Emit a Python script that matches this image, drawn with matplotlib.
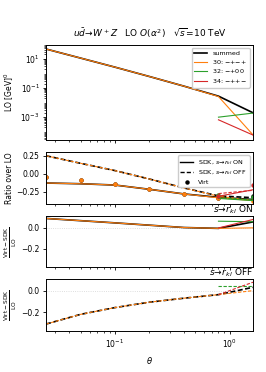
import numpy as np
import matplotlib
matplotlib.use("Agg")
import matplotlib.pyplot as plt
from matplotlib.lines import Line2D

# ---- data ----
theta = [0.025, 0.05, 0.1, 0.2, 0.4, 0.8, 1.6]
nan = np.nan

lo_sum = [45.7, 11.0, 2.63, 0.60, 0.132, 0.0274, 0.0020]
lo_30 = [45.7, 11.0, 2.63, 0.60, 0.132, 0.0257, 0.000062]
lo_32 = [nan, nan, nan, nan, nan, 0.0010, 0.0019]
lo_34 = [nan, nan, nan, nan, nan, 0.00066, 0.000060]

on_sum = [-0.127, -0.137, -0.155, -0.214, -0.278, -0.325, -0.355]
off_sum = [0.25, 0.146, 0.045, -0.072, -0.195, -0.305, -0.33]
virt_sum = [-0.05, -0.092, -0.141, -0.209, -0.283, -0.33, -0.30]
on_30 = [-0.127, -0.137, -0.155, -0.214, -0.278, -0.332, -0.37]
off_30 = [0.25, 0.146, 0.045, -0.072, -0.195, -0.31, -0.37]
virt_30 = [-0.05, -0.092, -0.141, -0.209, -0.283, -0.337, -0.37]
on_32 = [nan, nan, nan, nan, nan, -0.34, -0.37]
off_32 = [nan, nan, nan, nan, nan, -0.331, -0.36]
virt_32 = [nan, nan, nan, nan, nan, -0.287, -0.315]
on_34 = [nan, nan, nan, nan, nan, -0.31, -0.22]
off_34 = [nan, nan, nan, nan, nan, -0.273, -0.228]
virt_34 = [nan, nan, nan, nan, nan, -0.31, -0.155]

don_sum = [0.086, 0.065, 0.044, 0.022, 0.0, -0.008, 0.053]
don_30 = [0.086, 0.065, 0.044, 0.022, 0.0, -0.008, -0.003]
don_32 = [nan, nan, nan, nan, nan, 0.06, 0.055]
don_34 = [nan, nan, nan, nan, nan, -0.004, 0.076]
doff_sum = [-0.31, -0.22, -0.157, -0.107, -0.07, -0.037, 0.031]
doff_30 = [-0.31, -0.22, -0.157, -0.107, -0.07, -0.037, 0.0]
doff_32 = [nan, nan, nan, nan, nan, 0.044, 0.044]
doff_34 = [nan, nan, nan, nan, nan, -0.037, 0.078]

labels = ["summed", "30: $-$+$-$+", "32: $-$+00", "34: $-$++$-$"]
colors = ["black", "C1", "C2", "C3"]

lo_all = [lo_sum, lo_30, lo_32, lo_34]
on_all = [on_sum, on_30, on_32, on_34]
off_all = [off_sum, off_30, off_32, off_34]
virt_all = [virt_sum, virt_30, virt_32, virt_34]
don_all = [don_sum, don_30, don_32, don_34]
doff_all = [doff_sum, doff_30, doff_32, doff_34]

plt.rcParams['font.size'] = 5.5
plt.rcParams['mathtext.fontset'] = 'dejavusans'
fig = plt.figure(figsize=(2.66, 3.72), dpi=100)
L, W = 0.173, 0.778
ax1 = fig.add_axes([L, 0.624, W, 0.255])
ax2 = fig.add_axes([L, 0.452, W, 0.139], sharex=ax1)
ax3 = fig.add_axes([L, 0.282, W, 0.137], sharex=ax1)
ax4 = fig.add_axes([L, 0.110, W, 0.140], sharex=ax1, sharey=ax3)

for i in range(4):
    lw = 1.2 if i == 0 else 0.8
    ax1.plot(theta, lo_all[i], color=colors[i], lw=lw, label=labels[i])
    ax2.plot(theta, on_all[i], color=colors[i], lw=lw, ls='-')
    ax2.plot(theta, off_all[i], color=colors[i], lw=lw, ls='--', dashes=(3, 1.5))
    ax2.plot(theta, virt_all[i], color=colors[i], ls='none', marker='o', ms=2.2)
    ax3.plot(theta, don_all[i], color=colors[i], lw=lw, ls='-')
    ax4.plot(theta, doff_all[i], color=colors[i], lw=lw, ls='--', dashes=(3, 1.5))

ax1.set_xscale('log')
ax1.set_yscale('log')
ax1.set_xlim(0.025, 1.6)
ax1.set_ylim(2.8e-5, 86)
ax1.set_yticks([1e1, 1e-1, 1e-3])
ax1.set_ylabel("LO [GeV]$^0$", fontsize=5.5, labelpad=3)
ax1.legend(loc='upper right', fontsize=4.6, handlelength=2.0, labelspacing=0.25,
           borderpad=0.4, framealpha=1.0, edgecolor='0.8')
ax1.set_title(r"$u\bar{d}\!\to\! W^+Z$   LO $O(\alpha^2)$   $\sqrt{s}$=10 TeV", fontsize=6.5, pad=6)

ax2.set_ylim(-0.415, 0.30)
ax2.set_yticks([0.25, 0.0, -0.25])
ax2.set_ylabel("Ratio over LO", fontsize=5.5, labelpad=2)
h = [Line2D([], [], color='k', lw=1.0, ls='-'),
     Line2D([], [], color='k', lw=1.0, ls='--', dashes=(3, 1.5)),
     Line2D([], [], color='k', ls='none', marker='o', ms=2.2)]
ax2.legend(h, [r"SDK, $s\!\to\! r_{kl}$ ON", r"SDK, $s\!\to\! r_{kl}$ OFF", "Virt"],
           loc='upper right', fontsize=4.6, labelspacing=0.3, borderpad=0.4,
           framealpha=1.0, edgecolor='0.8')

for ax, t in [(ax3, "ON"), (ax4, "OFF")]:
    ax.axhline(0, color='lightgray', lw=0.6, ls=':', zorder=0)
    ax.set_ylabel(r"$\frac{\mathrm{Virt}-\mathrm{SDK}}{\mathrm{LO}}$", fontsize=6, labelpad=2)
    ax.set_title(r"$s\!\to\! r_{kl}$ " + t, loc='right', fontsize=6.5, pad=1.5)
ax3.set_ylim(-0.375, 0.108)
ax3.set_yticks([0.0, -0.2])

for ax in [ax1, ax2, ax3]:
    ax.tick_params(labelbottom=False)
ax4.set_xlabel(r"$\theta$", fontsize=6)

for ax in [ax1, ax2, ax3, ax4]:
    ax.tick_params(labelsize=5.5, length=2.5, width=0.6, pad=2)
    ax.tick_params(which='minor', length=1.5, width=0.5)
    for s in ax.spines.values():
        s.set_linewidth(0.7)

fig.savefig("out.png", dpi=100)
